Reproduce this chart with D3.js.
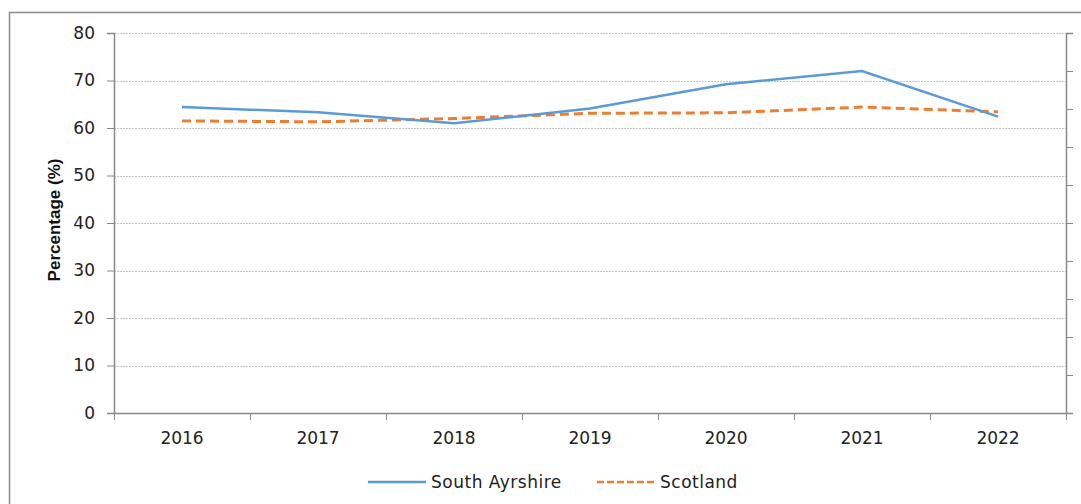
<!DOCTYPE html>
<html>
<head>
<meta charset="utf-8">
<script src="https://cdn.jsdelivr.net/npm/d3@7"></script>
<style>
  body { margin: 0; background: #fff; }
  svg { display: block; }
</style>
</head>
<body>
<svg id="chart"></svg>
<script>
const years = ["2016", "2017", "2018", "2019", "2020", "2021", "2022"];
const southAyrshire = [64.4, 63.3, 61.0, 64.1, 69.2, 72.0, 62.4];
const scotland = [61.5, 61.3, 62.0, 63.1, 63.2, 64.4, 63.4];
const yTicks = [0, 10, 20, 30, 40, 50, 60, 70, 80];
const seriesNames = ["South Ayrshire", "Scotland"];

const width = 1081;
const height = 504;
const margin = { top: 33, right: 15, bottom: 91, left: 114 };
const plotW = width - margin.left - margin.right;
const plotH = height - margin.top - margin.bottom;

const blue = "#5b9bd5";
const orange = "#ed7d31";
const axisColor = "#888";
const font = "'DejaVu Sans', Verdana, sans-serif";

const svg = d3.select("#chart").attr("width", width).attr("height", height);

// outer chart border (runs off the right and bottom edges)
svg.append("rect")
  .attr("x", 9.5).attr("y", 12.5)
  .attr("width", width).attr("height", height)
  .attr("fill", "none").attr("stroke", "#8c8c8c").attr("stroke-width", 1.5);

const g = svg.append("g").attr("transform", `translate(${margin.left},${margin.top})`);

const x = d3.scaleBand().domain(years).range([0, plotW]);
const y = d3.scaleLinear().domain([0, 80]).range([plotH, 0]);
const y2 = d3.scaleLinear().domain([0, 10]).range([plotH, 0]);

// gridlines
g.append("g")
  .selectAll("line")
  .data(yTicks.filter(d => d > 0))
  .join("line")
  .attr("x1", 0).attr("x2", plotW)
  .attr("y1", d => Math.round(y(d)) + 0.5).attr("y2", d => Math.round(y(d)) + 0.5)
  .attr("stroke", "#c4c4c4")
  .attr("stroke-dasharray", "2,1");

// left axis
const yAxis = g.append("g")
  .call(d3.axisLeft(y).tickValues(yTicks).tickSize(7).tickPadding(12));
yAxis.selectAll("text").attr("font-family", font).attr("font-size", 17).attr("fill", "#222");

// right axis, no labels
const y2Axis = g.append("g")
  .attr("transform", `translate(${plotW},0)`)
  .call(d3.axisRight(y2).ticks(10).tickSize(7).tickFormat(""));

// bottom axis
const xAxis = g.append("g")
  .attr("transform", `translate(0,${plotH})`)
  .call(d3.axisBottom(x).tickSize(0).tickPadding(19));
xAxis.selectAll("text").attr("font-family", font).attr("font-size", 17).attr("fill", "#222");
xAxis.append("g")
  .selectAll("line")
  .data(d3.range(years.length + 1))
  .join("line")
  .attr("x1", i => i * x.bandwidth() + 0.5).attr("x2", i => i * x.bandwidth() + 0.5)
  .attr("y1", 0).attr("y2", 7)
  .attr("stroke", axisColor);

[yAxis, y2Axis, xAxis].forEach(a => {
  a.selectAll(".domain").attr("stroke", axisColor).attr("stroke-width", 1.5);
  a.selectAll(".tick line").attr("stroke", axisColor);
});

// y label
svg.append("text")
  .attr("transform", `translate(60,${margin.top + plotH / 2 - 3}) rotate(-90)`)
  .attr("text-anchor", "middle")
  .attr("font-family", "'Liberation Sans', Arial, sans-serif")
  .attr("font-weight", "bold")
  .attr("font-size", 17)
  .attr("fill", "#111")
  .text("Percentage (%)");

// series
const line = d3.line()
  .x((d, i) => x(years[i]) + x.bandwidth() / 2)
  .y(d => y(d));

g.append("path")
  .datum(scotland)
  .attr("fill", "none")
  .attr("stroke", orange)
  .attr("stroke-width", 3)
  .attr("stroke-dasharray", "9,5")
  .attr("d", line);

g.append("path")
  .datum(southAyrshire)
  .attr("fill", "none")
  .attr("stroke", blue)
  .attr("stroke-width", 2.5)
  .attr("d", line);

// legend
const legend = svg.append("g").attr("transform", "translate(0,482)");
const legendItems = [
  { name: seriesNames[0], color: blue, dash: null, x: 368 },
  { name: seriesNames[1], color: orange, dash: "7,3", x: 597 },
];
legendItems.forEach(d => {
  legend.append("line")
    .attr("x1", d.x).attr("x2", d.x + 58)
    .attr("y1", 0).attr("y2", 0)
    .attr("stroke", d.color)
    .attr("stroke-width", 2.5)
    .attr("stroke-dasharray", d.dash);
  legend.append("text")
    .attr("x", d.x + 63)
    .attr("y", 0)
    .attr("dy", "0.35em")
    .attr("font-family", font)
    .attr("font-size", 17)
    .attr("letter-spacing", 0.5)
    .attr("fill", "#222")
    .text(d.name);
});
</script>
</body>
</html>
